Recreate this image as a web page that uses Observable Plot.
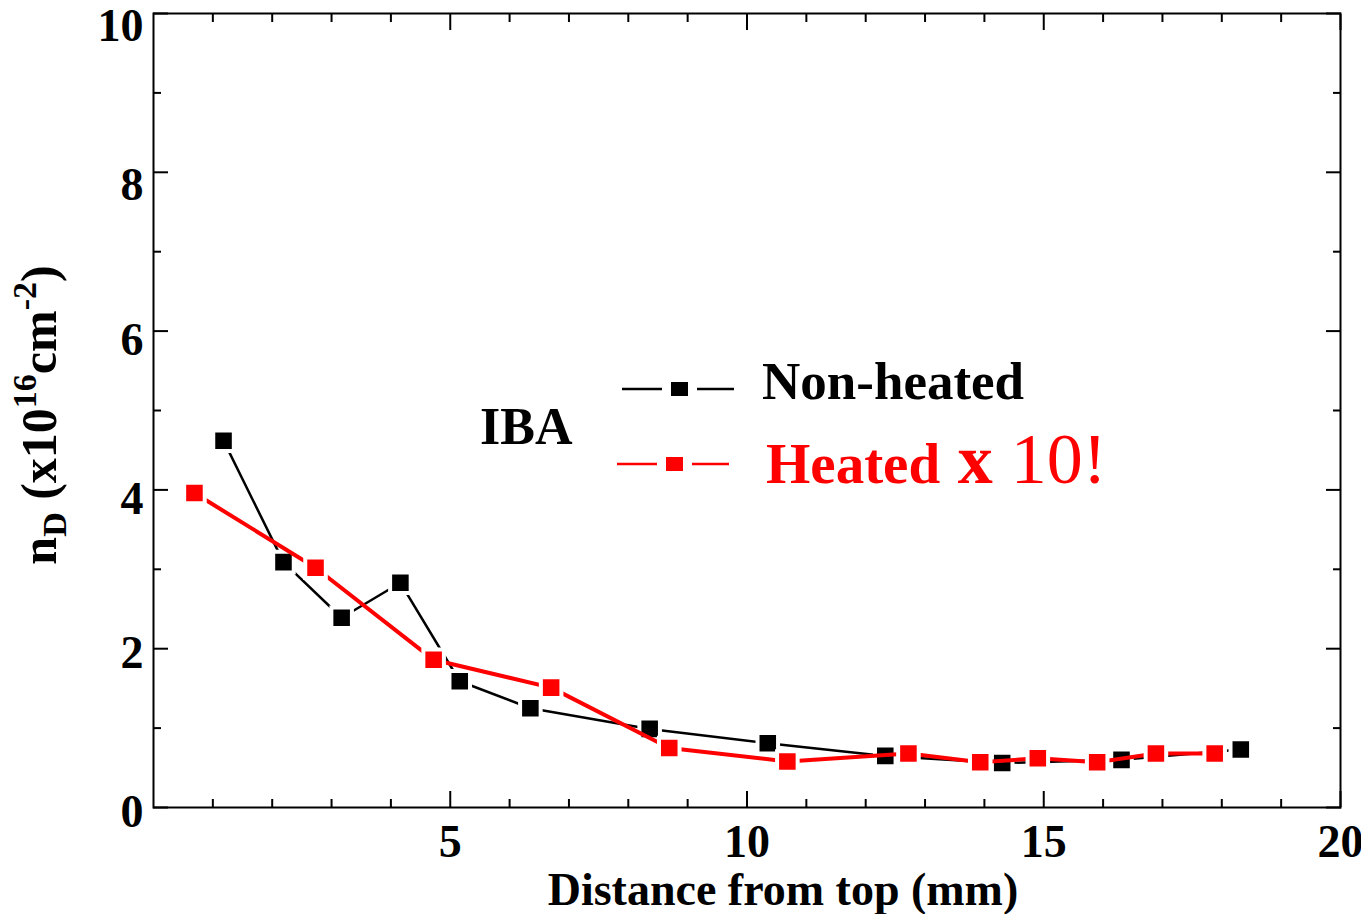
<!DOCTYPE html>
<html><head><meta charset="utf-8">
<script src="https://cdn.jsdelivr.net/npm/d3@7"></script>
<script src="https://cdn.jsdelivr.net/npm/@observablehq/plot@0.6"></script>
<style>html,body{margin:0;padding:0;background:#fff;overflow:hidden;} #chart{width:1361px;height:914px;}</style>
</head><body><div id="chart"></div>
<script>
// Data
const nonHeatedX = [1.18, 2.19, 3.17, 4.16, 5.16, 6.35, 8.36, 10.35, 12.33, 14.30, 16.31, 18.32];
const nonHeatedY = [4.62, 3.09, 2.39, 2.83, 1.59, 1.25, 0.99, 0.81, 0.65, 0.56, 0.60, 0.73];
const heatedX = [0.69, 2.73, 4.72, 6.70, 8.69, 10.68, 12.72, 13.93, 14.90, 15.90, 16.89, 17.88];
const heatedY = [3.96, 3.02, 1.86, 1.51, 0.75, 0.58, 0.68, 0.57, 0.62, 0.57, 0.68, 0.68];
const xMajorTicks = [5, 10, 15, 20];
const xMinorTicks = [1, 2, 3, 4, 6, 7, 8, 9, 11, 12, 13, 14, 16, 17, 18, 19];
const yMajorTicks = [0, 2, 4, 6, 8, 10];
const yMinorTicks = [1, 3, 5, 7, 9];
const seriesNames = ["Non-heated", "Heated"];
const xTitle = "Distance from top (mm)";
const annotation = "IBA";

const nonHeated = nonHeatedX.map((x, i) => ({x, y: nonHeatedY[i]}));
const heated = heatedX.map((x, i) => ({x, y: heatedY[i]}));

const ff = "'Liberation Serif','Times New Roman',Times,serif";
const tickFont = 46;

// y tick labels in the reference sit slightly below their ticks, more so higher up
const yLabelGroups = [
  {ticks: yMajorTicks.filter(v => v <= 2), dy: 5},
  {ticks: yMajorTicks.filter(v => v > 2 && v <= 6), dy: 9},
  {ticks: yMajorTicks.filter(v => v > 6), dy: 13}
];

const plot = Plot.plot({
  width: 1361, height: 914,
  marginLeft: 153, marginRight: 21, marginTop: 13, marginBottom: 107,
  x: {domain: [0, 20]},
  y: {domain: [0, 10]},
  style: {fontFamily: ff, fontWeight: "bold", background: "white", color: "black", overflow: "visible"},
  marks: [
    Plot.frame({stroke: "black", strokeWidth: 2}),
    // bottom axis: labels + major/minor inward ticks
    Plot.axisX({anchor: "bottom", ticks: xMajorTicks, tickSize: 0, tickPadding: 17, fontSize: tickFont, label: null, stroke: "none", tickFormat: d => String(d)}),
    Plot.axisX({anchor: "bottom", ticks: xMajorTicks, tickSize: -16, fill: "none", label: null, strokeWidth: 2}),
    Plot.axisX({anchor: "bottom", ticks: xMinorTicks, tickSize: -8, fill: "none", label: null, strokeWidth: 2}),
    // top axis: ticks only
    Plot.axisX({anchor: "top", ticks: xMajorTicks, tickSize: -16, fill: "none", label: null, strokeWidth: 2}),
    Plot.axisX({anchor: "top", ticks: xMinorTicks, tickSize: -8, fill: "none", label: null, strokeWidth: 2}),
    // left axis: labels + ticks
    ...yLabelGroups.map(gr => Plot.axisY({anchor: "left", ticks: gr.ticks, tickSize: 0, tickPadding: 10, dy: gr.dy, fontSize: tickFont, label: null, stroke: "none", tickFormat: d => String(d)})),
    Plot.axisY({anchor: "left", ticks: yMajorTicks, tickSize: -15, fill: "none", label: null, strokeWidth: 2}),
    Plot.axisY({anchor: "left", ticks: yMinorTicks, tickSize: -8, fill: "none", label: null, strokeWidth: 2}),
    // right axis: ticks only
    Plot.axisY({anchor: "right", ticks: yMajorTicks, tickSize: -15, fill: "none", label: null, strokeWidth: 2}),
    Plot.axisY({anchor: "right", ticks: yMinorTicks, tickSize: -8, fill: "none", label: null, strokeWidth: 2}),
    // series
    Plot.line(nonHeated, {x: "x", y: "y", stroke: "black", strokeWidth: 2.5}),
    Plot.dot(nonHeated, {x: "x", y: "y", symbol: "square", r: 11.6, fill: "black", stroke: "white", strokeWidth: 4}),
    Plot.line(heated, {x: "x", y: "y", stroke: "#ff0000", strokeWidth: 4}),
    Plot.dot(heated, {x: "x", y: "y", symbol: "square", r: 11.6, fill: "#ff0000", stroke: "white", strokeWidth: 4})
  ]
});

document.getElementById("chart").appendChild(plot);

// Text annotations, axis titles and legend
const svg = d3.select(plot);
const g = svg.append("g").attr("font-family", ff).attr("font-weight", "bold").attr("text-anchor", "start");

// X axis title
g.append("text").attr("x", 783).attr("y", 905).attr("text-anchor", "middle")
  .attr("font-size", 46).attr("fill", "black").text(xTitle);

// Y axis title with sub/superscripts
const yl = g.append("text").attr("transform", "translate(56,415) rotate(-90)")
  .attr("text-anchor", "middle").attr("font-size", 50).attr("fill", "black");
yl.append("tspan").text("n");
yl.append("tspan").attr("font-size", 34).attr("dy", 10).text("D");
yl.append("tspan").attr("dy", -10).text(" (x10");
yl.append("tspan").attr("font-size", 34).attr("dy", -20).text("16");
yl.append("tspan").attr("dy", 20).text("cm");
yl.append("tspan").attr("font-size", 34).attr("dy", -20).text("-2");
yl.append("tspan").attr("dy", 20).text(")");

// IBA
g.append("text").attr("x", 480).attr("y", 444).attr("font-size", 52).attr("fill", "black").text(annotation);

// Legend
const legend = [
  {name: seriesNames[0], color: "black", y: 389, x0: 622},
  {name: seriesNames[1], color: "#ff0000", y: 464, x0: 617}
];
legend.forEach(d => {
  g.append("line").attr("x1", d.x0).attr("x2", d.x0 + 40).attr("y1", d.y).attr("y2", d.y)
    .attr("stroke", d.color).attr("stroke-width", 2.5);
  g.append("rect").attr("x", d.x0 + 49).attr("y", d.y - 7).attr("width", 17).attr("height", 14)
    .attr("fill", d.color);
  g.append("line").attr("x1", d.x0 + 75).attr("x2", d.x0 + 112).attr("y1", d.y).attr("y2", d.y)
    .attr("stroke", d.color).attr("stroke-width", 2.5);
});
g.append("text").attr("x", 762).attr("y", 399).attr("font-size", 53).attr("fill", "black").text(seriesNames[0]);
const ht = g.append("text").attr("x", 766).attr("y", 483).attr("font-size", 57).attr("fill", "#ff0000");
ht.append("tspan").text(seriesNames[1]);
ht.append("tspan").attr("font-size", 70).text(" x");
ht.append("tspan").attr("font-size", 72).attr("font-weight", "normal").text(" 10!");
</script>
</body></html>
